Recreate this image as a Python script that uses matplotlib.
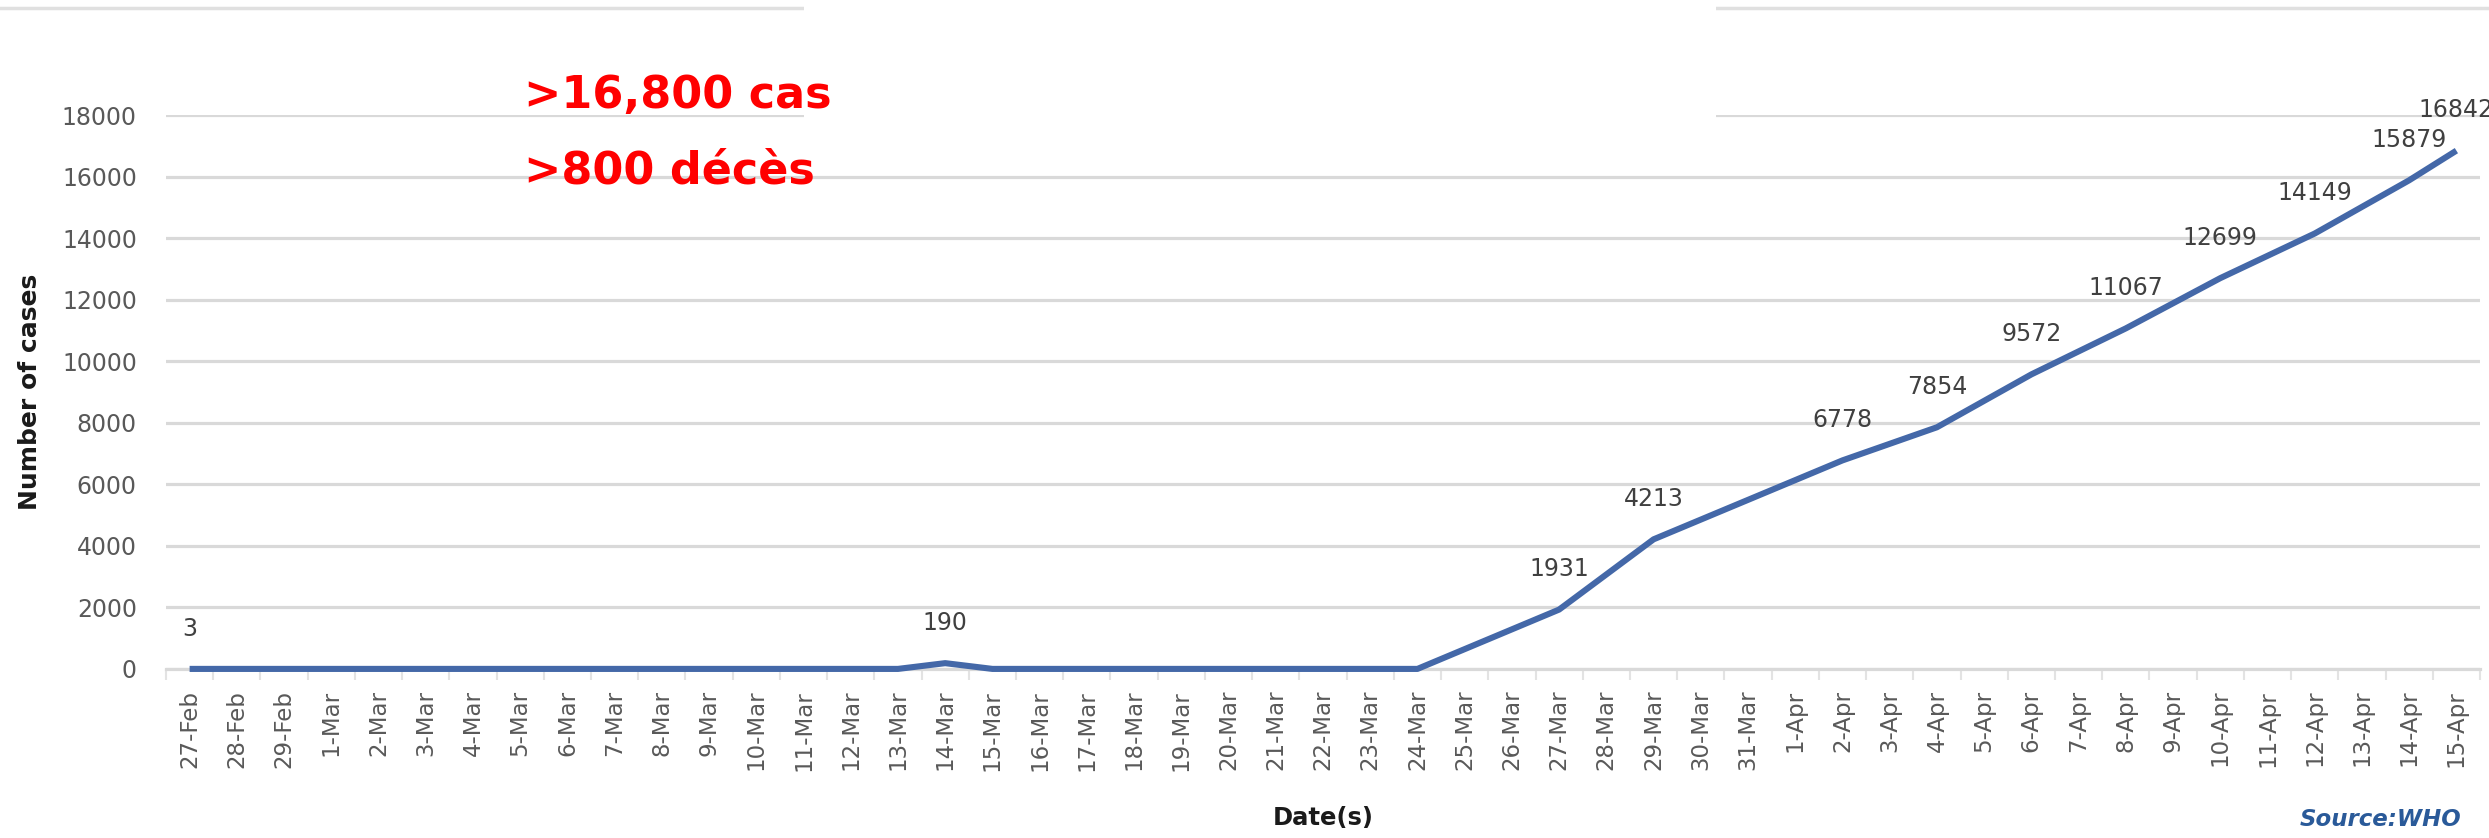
import matplotlib
matplotlib.use("Agg")
import matplotlib.pyplot as plt
from matplotlib.patches import Rectangle
from matplotlib.lines import Line2D

# ---- data ----
dates = ['27-Feb', '28-Feb', '29-Feb',
         '1-Mar', '2-Mar', '3-Mar', '4-Mar', '5-Mar', '6-Mar', '7-Mar', '8-Mar', '9-Mar', '10-Mar',
         '11-Mar', '12-Mar', '13-Mar', '14-Mar', '15-Mar', '16-Mar', '17-Mar', '18-Mar', '19-Mar',
         '20-Mar', '21-Mar', '22-Mar', '23-Mar', '24-Mar', '25-Mar', '26-Mar', '27-Mar', '28-Mar',
         '29-Mar', '30-Mar', '31-Mar',
         '1-Apr', '2-Apr', '3-Apr', '4-Apr', '5-Apr', '6-Apr', '7-Apr', '8-Apr', '9-Apr', '10-Apr',
         '11-Apr', '12-Apr', '13-Apr', '14-Apr', '15-Apr']
point_dates = ['27-Feb', '13-Mar', '14-Mar', '15-Mar', '24-Mar', '27-Mar', '29-Mar', '2-Apr',
               '4-Apr', '6-Apr', '8-Apr', '10-Apr', '12-Apr', '14-Apr', '15-Apr']
cases = [3, 3, 190, 3, 3, 1931, 4213, 6778, 7854, 9572, 11067, 12699, 14149, 15879, 16842]
labelled = ['27-Feb', '14-Mar', '27-Mar', '29-Mar', '2-Apr', '4-Apr', '6-Apr', '8-Apr',
            '10-Apr', '12-Apr', '14-Apr', '15-Apr']
y_ticks = [0, 2000, 4000, 6000, 8000, 10000, 12000, 14000, 16000, 18000]
note_lines = ['>16,800 cas', '>800 décès']
x_title = 'Date(s)'
y_title = 'Number of cases'
source = 'Source:WHO'

plt.rcParams['font.family'] = ['DejaVu Sans']

W, H = 2489, 838
fig = plt.figure(figsize=(W / 100, H / 100), dpi=100)
fig.patch.set_facecolor('white')

def fx(px):
    return px / W

def fy(py):
    return 1 - py / H

ax = fig.add_axes([fx(166), fy(669), fx(2480) - fx(166), fy(115) - fy(669)])

xs = [dates.index(d) for d in point_dates]
ax.plot(xs, cases, color='#4468A8', lw=4.4, solid_joinstyle='round', solid_capstyle='butt',
        zorder=3, clip_on=False)

for d, v in zip(point_dates, cases):
    if d in labelled:
        ax.annotate(str(v), (dates.index(d), v), xytext=(0, 29), textcoords='offset points',
                    ha='center', va='center', fontsize=17, color='#404040', zorder=4,
                    annotation_clip=False)

ax.set_xlim(-0.5, len(dates) - 0.5)
ax.set_ylim(0, 18000)
ax.set_yticks(y_ticks)
ax.set_yticklabels([str(t) for t in y_ticks], fontsize=17, color='#595959')
ax.set_xticks(range(len(dates)))
ax.set_xticklabels(dates, rotation=90, fontsize=16.5, color='#595959', va='top', ha='center')
ax.tick_params(axis='y', length=0, pad=21)
ax.tick_params(axis='x', length=0, pad=15)
ax.set_xticks([i + 0.5 for i in range(-1, len(dates))], minor=True)
ax.tick_params(axis='x', which='minor', length=8, color='#E3E3E3', width=1.5)

ax.grid(axis='y', color='#D9D9D9', lw=2.3, zorder=0)
ax.set_axisbelow(True)
for s in ['top', 'right', 'left']:
    ax.spines[s].set_visible(False)
ax.spines['bottom'].set_color('#D9D9D9')
ax.spines['bottom'].set_linewidth(2.3)

# axis titles
fig.text(fx(1323), fy(818), x_title, ha='center', va='center', fontsize=17.5,
         fontweight='bold', color='#1a1a1a')
fig.text(fx(30), fy(392), y_title, ha='center', va='center', rotation=90, fontsize=18,
         fontweight='bold', color='#1a1a1a')

# decorative top line and white cover box
fig.add_artist(Line2D([0, fx(804)], [fy(8), fy(8)], color='#E0E0E0', lw=2.5, zorder=1))
fig.add_artist(Line2D([fx(1716), 1], [fy(8), fy(8)], color='#E0E0E0', lw=2.5, zorder=1))
fig.add_artist(Rectangle((fx(804), fy(165)), fx(1716) - fx(804), fy(0) - fy(165),
                         facecolor='white', edgecolor='none', zorder=1,
                         transform=fig.transFigure))

# red annotation
fig.text(fx(524), fy(108), note_lines[0], ha='left', va='baseline', fontsize=32,
         fontweight='bold', color='#FF0000', zorder=5)
fig.text(fx(524), fy(183), note_lines[1], ha='left', va='baseline', fontsize=32,
         fontweight='bold', color='#FF0000', zorder=5)

# source (kept fully inside the figure)
fig.text(fx(2300), fy(808), source, ha='left', va='top', fontsize=16.5,
         fontweight='bold', fontstyle='italic', color='#2A5A99', zorder=5)

fig.savefig('out.png', dpi=100, facecolor='white')
